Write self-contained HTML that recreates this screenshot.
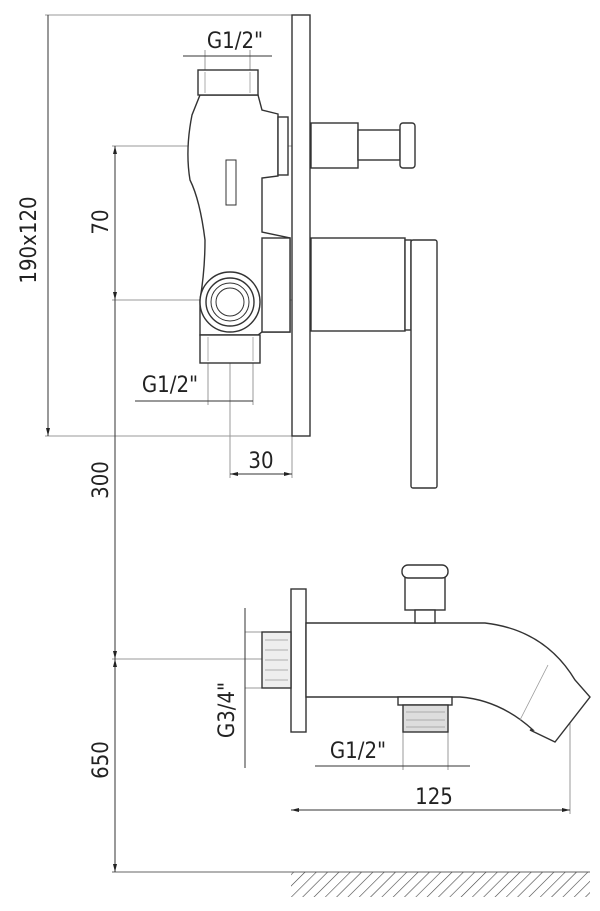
<!DOCTYPE html>
<html><head><meta charset="utf-8"><style>
html,body{margin:0;padding:0;background:#fff;}
svg{display:block;}
text{font-family:"DejaVu Sans Condensed","Liberation Sans Narrow","Liberation Sans",sans-serif;fill:#222;font-size:22px;}
</style></head><body>
<svg width="600" height="911" viewBox="0 0 600 911" xmlns="http://www.w3.org/2000/svg">
<defs>
<pattern id="h" width="8" height="8" patternUnits="userSpaceOnUse" patternTransform="rotate(45)">
<line x1="0" y1="0" x2="0" y2="8" stroke="#444" stroke-width="1.2"/></pattern>
<marker id="a" markerWidth="8" markerHeight="6" refX="8" refY="3" orient="auto-start-reverse" markerUnits="userSpaceOnUse"><path d="M0,1 L8,3 L0,5z" fill="#222"/></marker>
</defs>
<g fill="none" stroke="#999" stroke-width="1">
<line x1="45" y1="15" x2="292" y2="15"/>
<line x1="45" y1="436" x2="292" y2="436"/>
<line x1="112" y1="146" x2="300" y2="146"/>
<line x1="112" y1="300" x2="315" y2="300"/>
<line x1="112" y1="659" x2="300" y2="659"/>
<line x1="112" y1="872" x2="590" y2="872" stroke="#666"/>
<line x1="230" y1="300" x2="230" y2="478"/>
<line x1="230" y1="268" x2="230" y2="336"/>
<line x1="205" y1="50" x2="205" y2="72"/><line x1="250" y1="50" x2="250" y2="72"/>
<line x1="208" y1="363" x2="208" y2="405"/><line x1="253" y1="363" x2="253" y2="405"/>
<line x1="292" y1="436" x2="292" y2="478"/>
<line x1="403" y1="732" x2="403" y2="770"/><line x1="448" y1="732" x2="448" y2="770"/>
<line x1="570" y1="700" x2="570" y2="814"/>
<line x1="245" y1="632" x2="262" y2="632"/><line x1="245" y1="688" x2="262" y2="688"/>
<line x1="390" y1="623" x2="390" y2="697"/><line x1="462" y1="623" x2="462" y2="697"/>
</g>
<g stroke="#333" stroke-width="1" fill="none">
<line x1="48" y1="15" x2="48" y2="436" marker-end="url(#a)"/>
<line x1="115" y1="146" x2="115" y2="300" marker-start="url(#a)" marker-end="url(#a)"/>
<line x1="115" y1="300" x2="115" y2="659" marker-end="url(#a)"/>
<line x1="115" y1="659" x2="115" y2="872" marker-start="url(#a)" marker-end="url(#a)"/>
<line x1="183" y1="56" x2="272" y2="56"/>
<line x1="135" y1="401" x2="253" y2="401"/>
<line x1="230" y1="474" x2="292" y2="474" marker-start="url(#a)" marker-end="url(#a)"/>
<line x1="245" y1="608" x2="245" y2="768"/>
<line x1="315" y1="766" x2="470" y2="766"/>
<line x1="291" y1="810" x2="570" y2="810" marker-start="url(#a)" marker-end="url(#a)"/>
</g>
<g stroke="#333" stroke-width="1.4" fill="#fff">
<rect x="292" y="15" width="18" height="421"/>
<rect x="311" y="123" width="47" height="45"/>
<rect x="358" y="130" width="42" height="30"/>
<rect x="400" y="123" width="15" height="45" rx="3"/>
<rect x="311" y="238" width="94" height="93"/>
<rect x="405" y="240" width="6" height="90"/>
<rect x="411" y="240" width="26" height="248" rx="2"/>
<path d="M200,95 L258,95 L262,110 L278,114 L278,176 L262,178 L262,232 L290,238 L290,332 L262,332 L258,335 L200,335 L200,300 Q205,270 205,240 Q200,200 190,180 Q185,150 192,115 Z"/>
<rect x="278" y="117" width="10" height="58"/>
<rect x="198" y="70" width="60" height="25"/>
<rect x="200" y="335" width="60" height="28"/>
<rect x="262" y="238" width="28" height="94"/>
<rect x="226" y="160" width="10" height="45" stroke-width="1"/>
<circle cx="230" cy="302" r="30"/>
<circle cx="230" cy="302" r="24"/>
<circle cx="230" cy="302" r="19" stroke-width="1"/>
<circle cx="230" cy="302" r="14" stroke-width="1"/>
<rect x="291" y="589" width="15" height="143"/>
<rect x="262" y="632" width="29" height="56" fill="#eee"/>
<path d="M306,623 L485,623 Q545,630 575,680 L590,697 L555,742 L530,730 L533,730 Q500,700 460,697 L306,697 Z"/>
<rect x="405" y="577" width="40" height="33"/>
<rect x="402" y="565" width="46" height="13" rx="6"/>
<rect x="415" y="610" width="20" height="13"/>
<rect x="398" y="697" width="54" height="8"/>
<rect x="403" y="705" width="45" height="27" fill="#ddd"/>
<rect x="291" y="872" width="299" height="25" fill="url(#h)" stroke="none"/>
</g>
<g stroke="#999" stroke-width="0.8" fill="none">
<line x1="265" y1="640" x2="288" y2="640"/><line x1="265" y1="650" x2="288" y2="650"/><line x1="265" y1="660" x2="288" y2="660"/><line x1="265" y1="670" x2="288" y2="670"/><line x1="265" y1="680" x2="288" y2="680"/>
<line x1="406" y1="712" x2="445" y2="712"/><line x1="406" y1="720" x2="445" y2="720"/><line x1="406" y1="727" x2="445" y2="727"/>
<line x1="205" y1="72" x2="205" y2="93"/><line x1="250" y1="72" x2="250" y2="93"/>
<line x1="208" y1="337" x2="208" y2="361"/><line x1="253" y1="337" x2="253" y2="361"/>
<line x1="548" y1="665" x2="520" y2="720"/>
</g>
<text x="235" y="48" text-anchor="middle">G1/2"</text>
<text x="170" y="392" text-anchor="middle">G1/2"</text>
<text x="261" y="468" text-anchor="middle">30</text>
<text x="358" y="758" text-anchor="middle">G1/2"</text>
<text x="434" y="804" text-anchor="middle">125</text>
<text transform="translate(36,240) rotate(-90)" text-anchor="middle">190x120</text>
<text transform="translate(108,222) rotate(-90)" text-anchor="middle">70</text>
<text transform="translate(108,480) rotate(-90)" text-anchor="middle">300</text>
<text transform="translate(108,760) rotate(-90)" text-anchor="middle">650</text>
<text transform="translate(234,710) rotate(-90)" text-anchor="middle">G3/4"</text>
</svg>
</body></html>
